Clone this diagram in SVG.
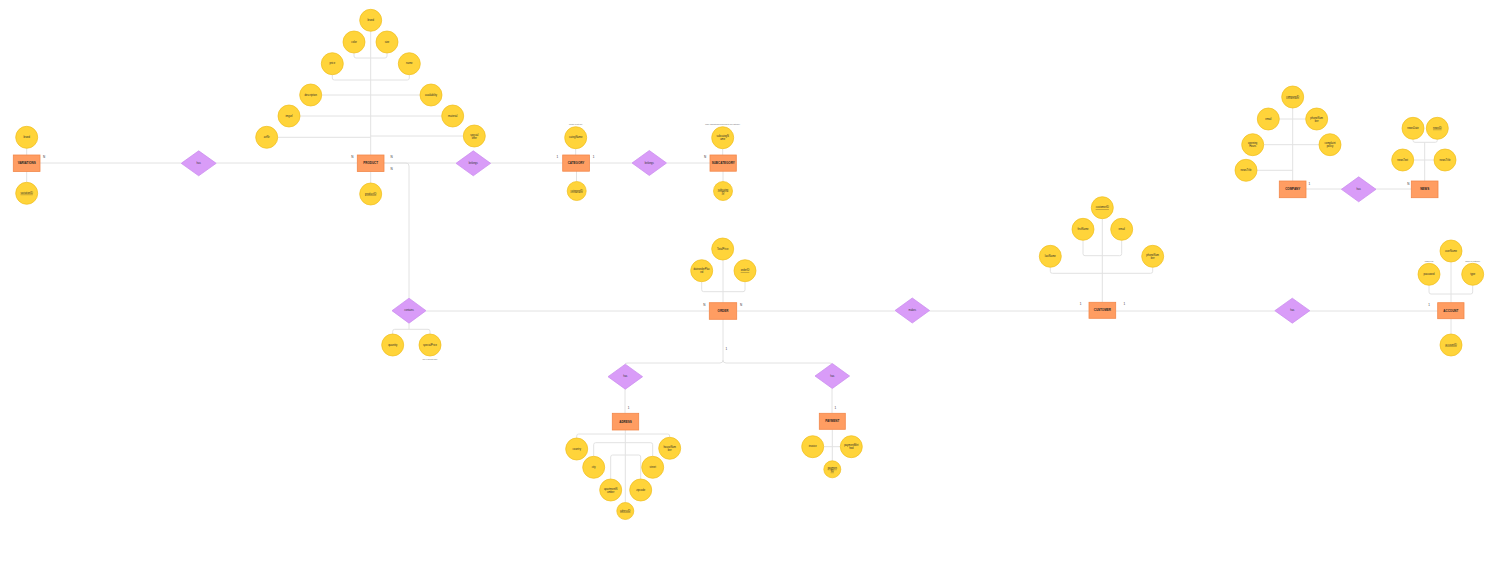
<svg xmlns="http://www.w3.org/2000/svg" width="1499" height="577" viewBox="0 0 1499 577">
<style>
.bg{fill:#ffffff}
.conn path{fill:none;stroke:#e2e2e2;stroke-width:1}
.ent rect{fill:#ff9d62;stroke:#f2884a;stroke-width:0.8}
.attr circle{fill:#ffd43a;stroke:#efbd1c;stroke-width:0.7}
.rel polygon{fill:#d99cf8;stroke:#c98aee;stroke-width:0.7}
text{font-family:"Liberation Sans",Arial,sans-serif;fill:#333;text-anchor:middle;dominant-baseline:central}
.et{font-size:3px;font-weight:bold;fill:#222}
.at{font-size:2.6px;fill:#2a2a2a}
.rt{font-size:2.6px}
.key{text-decoration:underline}
.card{font-size:3px;fill:#333}
.note{font-size:1.8px;fill:#666}
</style>
<rect class="bg" x="0" y="0" width="1499" height="577"/>
<g class="conn" id="connectors">
<path d="M40,163 H181"/>
<path d="M216,163 H357"/>
<path d="M384,163 H456"/>
<path d="M384,163 H406 Q409,163 409,166 V298"/>
<path d="M490,163 H563"/>
<path d="M589,163 H632"/>
<path d="M667,163 H710"/>
<path d="M426,311 H709"/>
<path d="M737,311 H895"/>
<path d="M929,311 H1089"/>
<path d="M1116,311 H1275"/>
<path d="M1309,311 H1438"/>
<path d="M1306,189 H1342"/>
<path d="M1375,189 H1411"/>
<path d="M723,319 V360 Q723,363 720,363 H628 Q625,363 625,364.2"/>
<path d="M723,360 Q723,363 726,363 H829 Q832,363 832,364"/>
<path d="M625,389 V413"/>
<path d="M832,388.5 V413"/>
<path d="M26.7,148 V155"/>
<path d="M26.7,171.5 V182"/>
<path d="M370.7,31 V155"/>
<path d="M354,53 V56 Q354,58 356,58 H385 Q387,58 387,56 V53"/>
<path d="M332.3,74.7 V78 Q332.3,80 334.3,80 H407.3 Q409.3,80 409.3,78 V74.7"/>
<path d="M321.7,95 H420"/>
<path d="M300,116 H441.7"/>
<path d="M277.7,137.3 H370.7"/>
<path d="M370.7,136 H463.3"/>
<path d="M370.7,171.5 V183"/>
<path d="M575.7,148.7 V155"/>
<path d="M576.5,171 V181.5"/>
<path d="M722.7,148.7 V155"/>
<path d="M723,171 V181.5"/>
<path d="M409,323.2 V329.3"/>
<path d="M392.7,334 V331.3 Q392.7,329.3 394.7,329.3 H428 Q430,329.3 430,331.3 V334"/>
<path d="M723,260 V302.7"/>
<path d="M701.7,281.7 V289.7 Q701.7,291.7 703.7,291.7 H743 Q745,291.7 745,289.7 V281.7"/>
<path d="M625.3,430 V502.5"/>
<path d="M576.7,438 V436 Q576.7,434 578.7,434 H667.7 Q669.7,434 669.7,436 V437.3"/>
<path d="M593.7,456.3 V444.7 Q593.7,442.7 595.7,442.7 H650.7 Q652.7,442.7 652.7,444.7 V456.3"/>
<path d="M610.7,479 V457 Q610.7,455 612.7,455 H638.7 Q640.7,455 640.7,457 V479"/>
<path d="M832.3,429.3 V460.8"/>
<path d="M823.7,446.7 H840.3"/>
<path d="M1102.3,218.7 V302.3"/>
<path d="M1083,240.3 V253.7 Q1083,255.7 1085,255.7 H1119.7 Q1121.7,255.7 1121.7,253.7 V240.3"/>
<path d="M1050.3,267.3 V271.3 Q1050.3,273.3 1052.3,273.3 H1150.7 Q1152.7,273.3 1152.7,271.3 V267.3"/>
<path d="M1292.7,108 V181"/>
<path d="M1279.3,119 H1305.7"/>
<path d="M1263.7,144.7 H1319"/>
<path d="M1257,170.3 H1292.7"/>
<path d="M1413,139.3 V140.3 Q1413,142.3 1415,142.3 H1435.3 Q1437.3,142.3 1437.3,140.3 V139.3"/>
<path d="M1424.7,142.3 V181"/>
<path d="M1413.7,160 H1434"/>
<path d="M1451,262 V302.7"/>
<path d="M1429,285.3 V292 Q1429,294 1431,294 H1470.7 Q1472.7,294 1472.7,292 V285.3"/>
<path d="M1451,318.7 V334"/>
</g>

<!-- VARIATIONS -->
<g id="variations" class="ent"><rect x="13.3" y="155" width="26.7" height="16.5"/><text class="et" x="26.7" y="163.3">VARIATIONS</text><text class="card" x="44" y="157.3">N</text></g>
<g id="variations-brand" class="attr"><circle cx="26.7" cy="137.3" r="11"/><text class="at" x="26.7" y="137.3">brand</text></g>
<g id="variations-id" class="attr"><circle cx="26.7" cy="193.3" r="11"/><text class="at key" x="26.7" y="193.3">variationID</text></g>
<g id="rel-has-variations" class="rel"><polygon points="181.2,163.3 198.7,150.8 216.2,163.3 198.7,175.8"/><text class="rt" x="198.7" y="163.3">has</text></g>

<!-- PRODUCT -->
<g id="product" class="ent"><rect x="357.3" y="155" width="26.7" height="16.5"/><text class="et" x="370.7" y="163.3">PRODUCT</text><text class="card" x="352.3" y="157.3">N</text><text class="card" x="391.7" y="157.3">N</text><text class="card" x="391.7" y="169.3">N</text></g>
<g id="product-brand" class="attr"><circle cx="370.7" cy="20.3" r="11"/><text class="at" x="370.7" y="20.3">brand</text></g>
<g id="product-color" class="attr"><circle cx="354" cy="42" r="11"/><text class="at" x="354" y="42">color</text></g>
<g id="product-size" class="attr"><circle cx="387" cy="42" r="11"/><text class="at" x="387" y="42">size</text></g>
<g id="product-price" class="attr"><circle cx="332.3" cy="63.7" r="11"/><text class="at" x="332.3" y="63.7">price</text></g>
<g id="product-name" class="attr"><circle cx="409.3" cy="63.7" r="11"/><text class="at" x="409.3" y="63.7">name</text></g>
<g id="product-description" class="attr"><circle cx="310.7" cy="95" r="11"/><text class="at" x="310.7" y="95">description</text></g>
<g id="product-availability" class="attr"><circle cx="431" cy="95" r="11"/><text class="at" x="431" y="95">availability</text></g>
<g id="product-imgurl" class="attr"><circle cx="289" cy="116" r="11"/><text class="at" x="289" y="116">imgurl</text></g>
<g id="product-material" class="attr"><circle cx="452.7" cy="116" r="11"/><text class="at" x="452.7" y="116">material</text></g>
<g id="product-artnr" class="attr"><circle cx="266.7" cy="137.3" r="11"/><text class="at" x="266.7" y="137.3">artNr</text></g>
<g id="product-specialoffer" class="attr"><circle cx="474.3" cy="136" r="11"/><text class="at" x="474.3" y="136"><tspan x="474.3" dy="-1.5">special</tspan><tspan x="474.3" dy="3">offer</tspan></text></g>
<g id="product-id" class="attr"><circle cx="370.7" cy="194" r="11"/><text class="at key" x="370.7" y="194">productID</text></g>
<g id="rel-belongs-product" class="rel"><polygon points="456,163.3 473.3,150.8 490.6,163.3 473.3,175.8"/><text class="rt" x="473.3" y="163.3">belongs</text></g>

<!-- CATEGORY -->
<g id="category" class="ent"><rect x="562.7" y="155" width="26.7" height="16.2"/><text class="et" x="576" y="163.1">CATEGORY</text><text class="card" x="557.3" y="157.3">1</text><text class="card" x="593.7" y="157.3">1</text></g>
<g id="category-name" class="attr"><circle cx="575.7" cy="137.7" r="11"/><text class="at" x="575.7" y="137.7">categName</text><text class="note" x="575.7" y="124">unique &amp; not null</text></g>
<g id="category-id" class="attr"><circle cx="576.7" cy="191" r="9.5"/><text class="at key" x="576.7" y="191">categoryID</text></g>
<g id="rel-belongs-category" class="rel"><polygon points="632,163 649.3,150.5 666.6,163 649.3,175.5"/><text class="rt" x="649.3" y="163">belongs</text></g>

<!-- SUBCATEGORY -->
<g id="subcategory" class="ent"><rect x="710" y="155" width="26.3" height="16.2"/><text class="et" x="723.2" y="163.1">SUBCATEGORY</text><text class="card" x="705" y="157.3">N</text></g>
<g id="subcategory-name" class="attr"><circle cx="722.7" cy="137.7" r="11"/><text class="at" x="722.7" y="137.7"><tspan x="722.7" dy="-1.5">subcategN</tspan><tspan x="722.7" dy="3">ame</tspan></text><text class="note" x="722.7" y="124">many subcategories belong to one category</text></g>
<g id="subcategory-id" class="attr"><circle cx="723" cy="191" r="9.5"/><text class="at key" x="723" y="191"><tspan x="723" dy="-1.5">subcateg</tspan><tspan x="723" dy="3">ID</tspan></text></g>

<!-- CONTAINS -->
<g id="rel-contains" class="rel"><polygon points="392,310.7 409,298.2 426,310.7 409,323.2"/><text class="rt" x="409" y="310.7">contains</text></g>
<g id="contains-quantity" class="attr"><circle cx="392.7" cy="345" r="11"/><text class="at" x="392.7" y="345">quantity</text></g>
<g id="contains-specialprice" class="attr"><circle cx="430" cy="345" r="11"/><text class="at" x="430" y="345">specialPrice</text><text class="note" x="430" y="359.3">only if special offer</text></g>

<!-- ORDER -->
<g id="order" class="ent"><rect x="709.3" y="302.7" width="27.4" height="16.6"/><text class="et" x="723" y="311">ORDER</text><text class="card" x="704.3" y="305">N</text><text class="card" x="741" y="305">N</text><text class="card" x="726.3" y="349">1</text></g>
<g id="order-totalprice" class="attr"><circle cx="722.7" cy="249" r="11"/><text class="at" x="722.7" y="249">TotalPrice</text></g>
<g id="order-date" class="attr"><circle cx="701.7" cy="270.7" r="11"/><text class="at" x="701.7" y="270.7"><tspan x="701.7" dy="-1.5">dateorderPlac</tspan><tspan x="701.7" dy="3">ed</tspan></text></g>
<g id="order-id" class="attr"><circle cx="745" cy="270.7" r="11"/><text class="at key" x="745" y="270.7">orderID</text></g>

<!-- ADRESS -->
<g id="rel-has-adress" class="rel"><polygon points="608,376.7 625.3,364.2 642.6,376.7 625.3,389.2"/><text class="rt" x="625.3" y="376.7">has</text></g>
<g id="adress" class="ent"><rect x="612.3" y="413.3" width="26.4" height="16.7"/><text class="et" x="625.5" y="421.7">ADRESS</text><text class="card" x="628.7" y="408.3">1</text></g>
<g id="adress-country" class="attr"><circle cx="576.7" cy="449" r="11"/><text class="at" x="576.7" y="449">country</text></g>
<g id="adress-housenumber" class="attr"><circle cx="669.7" cy="448.3" r="11"/><text class="at" x="669.7" y="448.3"><tspan x="669.7" dy="-1.5">houseNum</tspan><tspan x="669.7" dy="3">ber</tspan></text></g>
<g id="adress-city" class="attr"><circle cx="593.7" cy="467.3" r="11"/><text class="at" x="593.7" y="467.3">city</text></g>
<g id="adress-street" class="attr"><circle cx="652.7" cy="467.3" r="11"/><text class="at" x="652.7" y="467.3">street</text></g>
<g id="adress-apartment" class="attr"><circle cx="610.7" cy="490" r="11"/><text class="at" x="610.7" y="490"><tspan x="610.7" dy="-1.5">apartmentN</tspan><tspan x="610.7" dy="3">umber</tspan></text></g>
<g id="adress-zipcode" class="attr"><circle cx="640.7" cy="490" r="11"/><text class="at" x="640.7" y="490">zipcode</text></g>
<g id="adress-id" class="attr"><circle cx="625.3" cy="511" r="8.5"/><text class="at key" x="625.3" y="511">adressID</text></g>

<!-- PAYMENT -->
<g id="rel-has-payment" class="rel"><polygon points="815,376 832.3,363.5 849.6,376 832.3,388.5"/><text class="rt" x="832.3" y="376">has</text></g>
<g id="payment" class="ent"><rect x="819.3" y="413.3" width="26" height="16"/><text class="et" x="832.3" y="421.3">PAYMENT</text><text class="card" x="835.3" y="408.3">1</text></g>
<g id="payment-invoice" class="attr"><circle cx="812.7" cy="446.7" r="11"/><text class="at" x="812.7" y="446.7">invoice</text></g>
<g id="payment-method" class="attr"><circle cx="851.3" cy="446.7" r="11"/><text class="at" x="851.3" y="446.7"><tspan x="851.3" dy="-1.5">paymentMet</tspan><tspan x="851.3" dy="3">hod</tspan></text></g>
<g id="payment-id" class="attr"><circle cx="832.3" cy="469.3" r="8.5"/><text class="at key" x="832.3" y="469.3"><tspan x="832.3" dy="-1.5">paymen</tspan><tspan x="832.3" dy="3">tID</tspan></text></g>

<!-- MAKES -->
<g id="rel-makes" class="rel"><polygon points="895,310.5 912.3,298 929.6,310.5 912.3,323"/><text class="rt" x="912.3" y="310.5">makes</text></g>

<!-- CUSTOMER -->
<g id="customer" class="ent"><rect x="1089" y="302.3" width="26.7" height="16"/><text class="et" x="1102.3" y="310.3">CUSTOMER</text><text class="card" x="1080.7" y="304.3">1</text><text class="card" x="1124.3" y="304.3">1</text></g>
<g id="customer-id" class="attr"><circle cx="1102.3" cy="207.7" r="11"/><text class="at key" x="1102.3" y="207.7">customerID</text></g>
<g id="customer-firstname" class="attr"><circle cx="1083" cy="229.3" r="11"/><text class="at" x="1083" y="229.3">firstName</text></g>
<g id="customer-email" class="attr"><circle cx="1121.7" cy="229.3" r="11"/><text class="at" x="1121.7" y="229.3">email</text></g>
<g id="customer-lastname" class="attr"><circle cx="1050.3" cy="256.3" r="11"/><text class="at" x="1050.3" y="256.3">lastName</text></g>
<g id="customer-phone" class="attr"><circle cx="1152.7" cy="256.3" r="11"/><text class="at" x="1152.7" y="256.3"><tspan x="1152.7" dy="-1.5">phoneNum</tspan><tspan x="1152.7" dy="3">ber</tspan></text></g>

<!-- ACCOUNT -->
<g id="rel-has-account" class="rel"><polygon points="1274.8,310.7 1292.3,298.2 1309.8,310.7 1292.3,323.2"/><text class="rt" x="1292.3" y="310.7">has</text></g>
<g id="account" class="ent"><rect x="1437.7" y="302.7" width="26.3" height="16"/><text class="et" x="1450.8" y="310.7">ACCOUNT</text><text class="card" x="1429" y="305">1</text></g>
<g id="account-username" class="attr"><circle cx="1451" cy="251" r="11"/><text class="at" x="1451" y="251">userName</text></g>
<g id="account-password" class="attr"><circle cx="1429" cy="274.3" r="11"/><text class="at" x="1429" y="274.3">password</text><text class="note" x="1429" y="261">hashed pw</text></g>
<g id="account-type" class="attr"><circle cx="1472.7" cy="274.3" r="11"/><text class="at" x="1472.7" y="274.3">type</text><text class="note" x="1472.7" y="261">admin or customer</text></g>
<g id="account-id" class="attr"><circle cx="1451" cy="345" r="11"/><text class="at key" x="1451" y="345">accountID</text></g>

<!-- COMPANY -->
<g id="company" class="ent"><rect x="1279.3" y="181" width="26.7" height="16.7"/><text class="et" x="1292.7" y="189.3">COMPANY</text><text class="card" x="1309.3" y="183.7">1</text></g>
<g id="company-id" class="attr"><circle cx="1292.7" cy="97" r="11"/><text class="at key" x="1292.7" y="97">companyID</text></g>
<g id="company-email" class="attr"><circle cx="1268.3" cy="119" r="11"/><text class="at" x="1268.3" y="119">email</text></g>
<g id="company-phone" class="attr"><circle cx="1316.7" cy="119" r="11"/><text class="at" x="1316.7" y="119"><tspan x="1316.7" dy="-1.5">phoneNum</tspan><tspan x="1316.7" dy="3">ber</tspan></text></g>
<g id="company-hours" class="attr"><circle cx="1252.7" cy="144.7" r="11"/><text class="at" x="1252.7" y="144.7"><tspan x="1252.7" dy="-1.5">opening</tspan><tspan x="1252.7" dy="3">Hours</tspan></text></g>
<g id="company-complaint" class="attr"><circle cx="1330" cy="144.7" r="11"/><text class="at" x="1330" y="144.7"><tspan x="1330" dy="-1.5">complaint</tspan><tspan x="1330" dy="3">policy</tspan></text></g>
<g id="company-newstitle" class="attr"><circle cx="1246" cy="170.3" r="11"/><text class="at" x="1246" y="170.3">newsTitle</text></g>
<g id="rel-has-news" class="rel"><polygon points="1341.4,189.3 1358.7,176.8 1376,189.3 1358.7,201.8"/><text class="rt" x="1358.7" y="189.3">has</text></g>

<!-- NEWS -->
<g id="news" class="ent"><rect x="1411.3" y="181" width="26.7" height="16.7"/><text class="et" x="1424.7" y="189.3">NEWS</text><text class="card" x="1408.3" y="183.7">N</text></g>
<g id="news-date" class="attr"><circle cx="1413" cy="128.3" r="11"/><text class="at" x="1413" y="128.3">newsDate</text></g>
<g id="news-id" class="attr"><circle cx="1437.3" cy="128.3" r="11"/><text class="at key" x="1437.3" y="128.3">newsID</text></g>
<g id="news-text" class="attr"><circle cx="1402.7" cy="160" r="11"/><text class="at" x="1402.7" y="160">newsText</text></g>
<g id="news-title" class="attr"><circle cx="1445" cy="160" r="11"/><text class="at" x="1445" y="160">newsTitle</text></g>
</svg>
